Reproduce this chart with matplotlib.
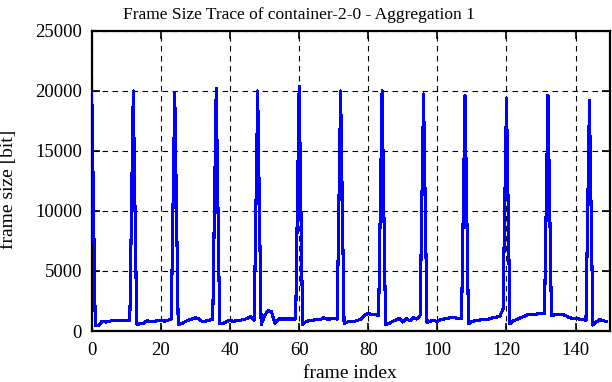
import matplotlib
matplotlib.use("Agg")
import matplotlib.pyplot as plt
import numpy as np

# frame sizes in bit, frame index 0..149 (I-frame every 12 frames)
peaks = [19800, 20000, 19900, 20200, 20000, 20400, 20000,
         20050, 19750, 19650, 19350, 19650, 19200]

# the 11 frames between two I-frames
gops = [
    [450, 450, 820, 750, 780, 900, 880, 900, 880, 860, 850],
    [560, 600, 650, 850, 800, 800, 850, 900, 820, 900, 1000],
    [560, 600, 780, 900, 1000, 1100, 1000, 780, 830, 900, 1000],
    [600, 640, 780, 900, 780, 900, 900, 950, 1050, 1200, 900],
    [500, 1300, 1700, 1600, 650, 1000, 1000, 1000, 1000, 1000, 1000],
    [560, 780, 880, 900, 950, 920, 1100, 1000, 1000, 1050, 1000],
    [600, 750, 800, 800, 900, 1000, 1300, 1500, 1350, 1350, 1300],
    [560, 600, 800, 900, 1050, 750, 1050, 850, 1100, 1000, 1300],
    [700, 820, 880, 780, 950, 1000, 1050, 1150, 1100, 1050, 1050],
    [600, 800, 850, 900, 950, 950, 1000, 1100, 1150, 1200, 1800],
    [600, 850, 950, 1100, 1200, 1350, 1350, 1400, 1420, 1450, 1450],
    [1300, 1350, 1400, 1400, 1300, 1150, 1050, 1050, 1000, 950, 900],
    [500, 750, 950, 850, 800],
]

sizes = []
for p, g in zip(peaks, gops):
    sizes.append(p)
    sizes.extend(g)
sizes = np.array(sizes)
frames = np.arange(len(sizes))

plt.rcParams['font.family'] = ['Liberation Serif', 'DejaVu Serif']

fig = plt.figure(figsize=(6.12, 3.82), dpi=100)
ax = fig.add_axes([0.150, 0.1335, 0.847, 0.7855])

# gnuplot-like raster look: no antialiasing on the trace
ax.plot(frames, sizes, color='#0000ff', lw=1.5, antialiased=False, zorder=3)

ax.set_xlim(0, 150)
ax.set_ylim(0, 25000)
ax.set_xticks(np.arange(0, 141, 20))
ax.set_yticks(np.arange(0, 25001, 5000))
ax.grid(True, color='black', linestyle=(0, (5, 4)), linewidth=0.8, zorder=1)
ax.tick_params(direction='in', length=6, width=1.2, top=True, right=True,
               labelsize=13.5)
ax.tick_params(axis='x', pad=8)
ax.tick_params(axis='y', pad=7)
for s in ax.spines.values():
    s.set_linewidth(1.6)

ax.set_title('Frame Size Trace of container-2-0 - Aggregation 1',
             fontsize=12.5, x=0.399, pad=8.5)
ax.set_xlabel('frame index', fontsize=14)
ax.xaxis.set_label_coords(0.498, -0.113)
ax.set_ylabel('frame size [bit]', fontsize=14)
ax.yaxis.set_label_coords(-0.145, 0.473)

fig.savefig('out.png', dpi=100)
